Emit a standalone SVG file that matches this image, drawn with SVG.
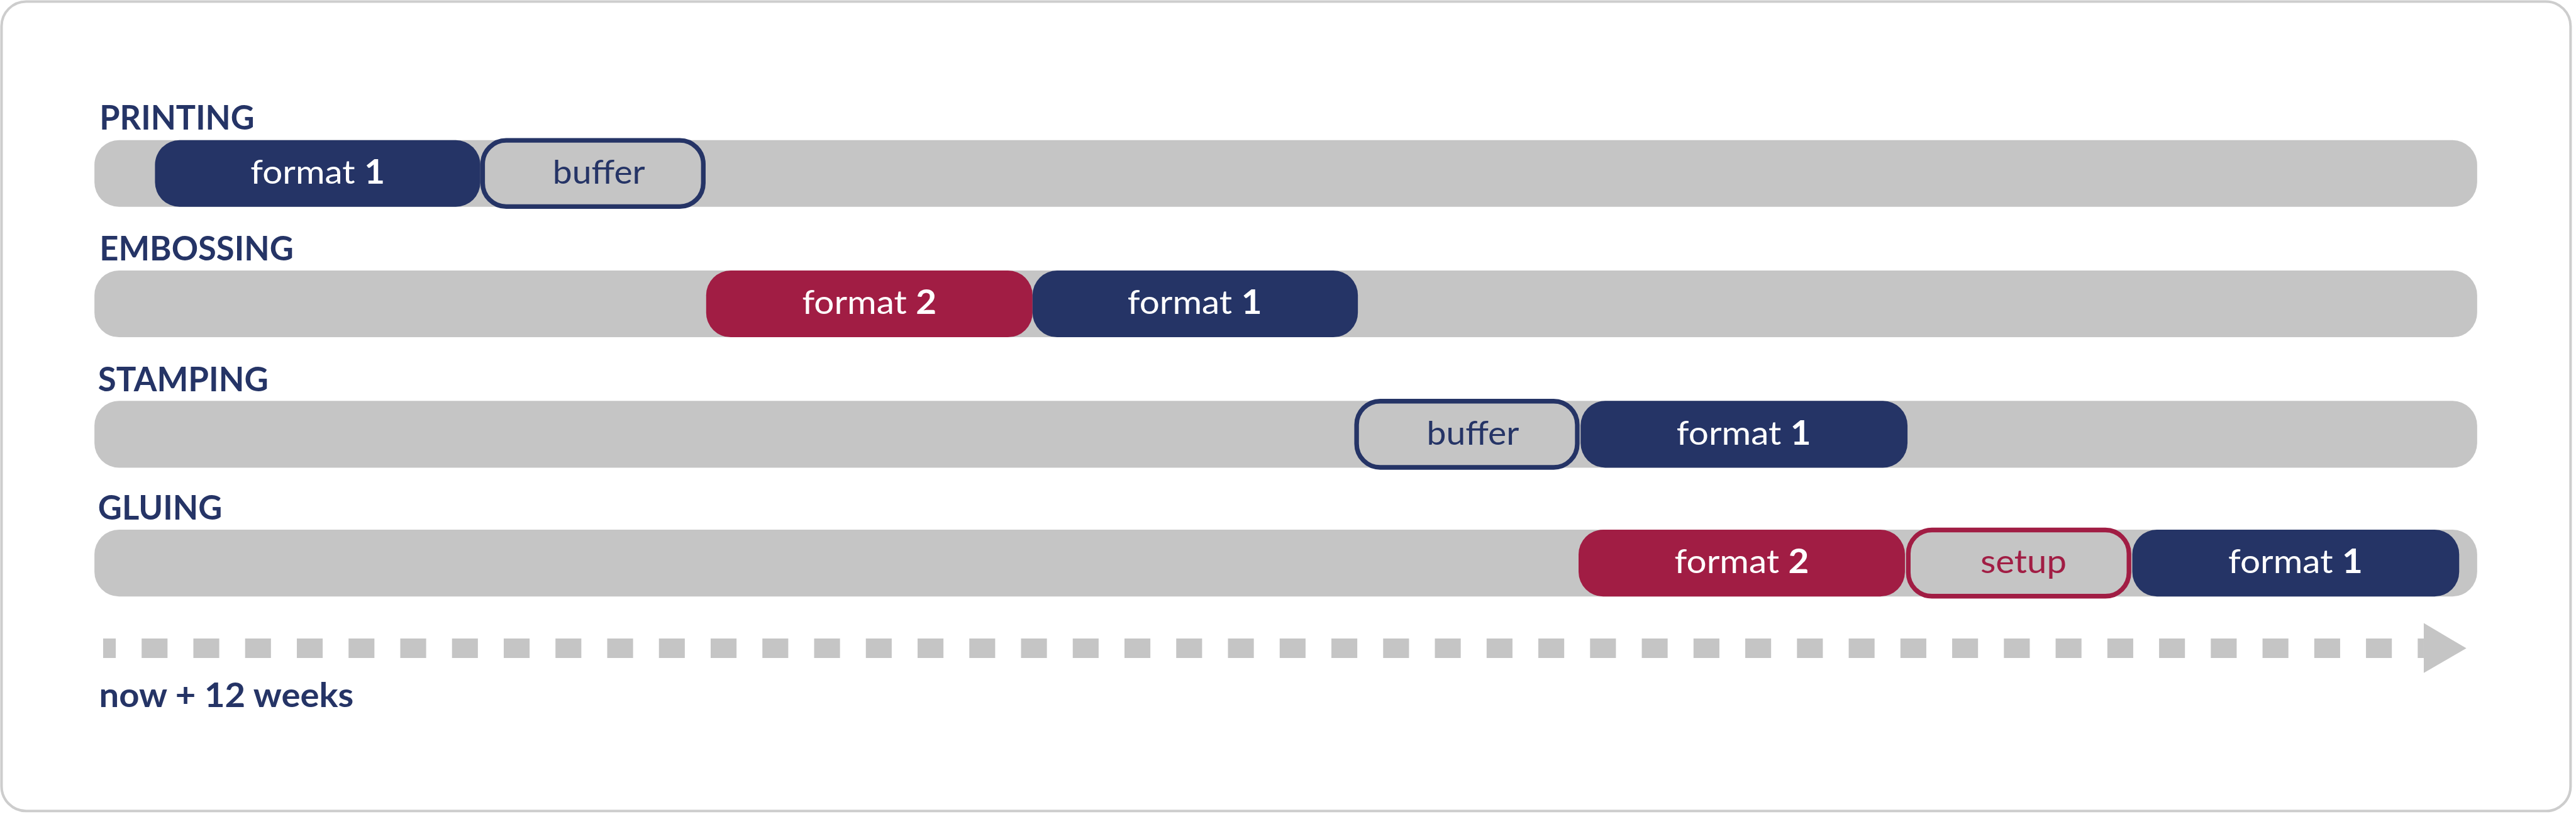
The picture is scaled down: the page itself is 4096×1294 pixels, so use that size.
<svg xmlns="http://www.w3.org/2000/svg" width="4096" height="1294" viewBox="0 0 4096 1294">
<style>
.lbl{font-family:Lato,"Open Sans","Liberation Sans",sans-serif;font-weight:bold;font-size:65px;fill:#253466}
.bar{fill:#c5c5c5}
.navy{fill:#253466}
.red{fill:#a11d44}
.outN{fill:#c5c5c5;stroke:#253466;stroke-width:9}
.outR{fill:#c5c5c5;stroke:#a11d44;stroke-width:9}
.bt{font-family:Lato,"Open Sans","Liberation Sans",sans-serif;font-size:65px;text-anchor:middle}
.w{fill:#ffffff}
.tn{fill:#253466}
.tr{fill:#a11d44}
.b{font-weight:bold}
</style>
<rect width="4096" height="1294" fill="#ffffff"/>
<g transform="scale(0.816)">
<rect id="frame" x="3" y="3" width="5006" height="1577" rx="48" ry="48" fill="#ffffff" stroke="#cdcdcd" stroke-width="5"/>

<g id="row-printing">
<text class="lbl" x="194" y="253" textLength="302" lengthAdjust="spacingAndGlyphs">PRINTING</text>
<rect class="bar" x="184" y="273" width="4643" height="130" rx="48" ry="48"/>
</g>
<g id="row-embossing">
<text class="lbl" x="194" y="507" textLength="378" lengthAdjust="spacingAndGlyphs">EMBOSSING</text>
<rect class="bar" x="184" y="527" width="4643" height="130" rx="48" ry="48"/>
</g>
<g id="row-stamping">
<text class="lbl" x="191" y="762" textLength="332" lengthAdjust="spacingAndGlyphs">STAMPING</text>
<rect class="bar" x="184" y="781" width="4643" height="130" rx="48" ry="48"/>
</g>
<g id="row-gluing">
<text class="lbl" x="191" y="1012" textLength="242" lengthAdjust="spacingAndGlyphs">GLUING</text>
<rect class="bar" x="184" y="1032" width="4643" height="130" rx="48" ry="48"/>
</g>

<g id="printing-format1">
<rect class="navy" x="302" y="273" width="634" height="130" rx="48" ry="48"/>
<text class="bt w" x="619" y="358" textLength="262" lengthAdjust="spacingAndGlyphs">format <tspan class="b">1</tspan></text>
</g>
<g id="printing-buffer">
<rect class="outN" x="940.5" y="273.5" width="430" height="129" rx="46" ry="46"/>
<text class="bt tn" x="1167" y="358" textLength="180" lengthAdjust="spacingAndGlyphs">buffer</text>
</g>

<g id="embossing-format2">
<rect class="red" x="1376" y="527" width="636" height="130" rx="48" ry="48"/>
<text class="bt w" x="1694" y="612" textLength="262" lengthAdjust="spacingAndGlyphs">format <tspan class="b">2</tspan></text>
</g>
<g id="embossing-format1">
<rect class="navy" x="2012" y="527" width="634" height="130" rx="48" ry="48"/>
<text class="bt w" x="2328" y="612" textLength="262" lengthAdjust="spacingAndGlyphs">format <tspan class="b">1</tspan></text>
</g>

<g id="stamping-buffer">
<rect class="outN" x="2643.5" y="781.5" width="430" height="129" rx="46" ry="46"/>
<text class="bt tn" x="2870" y="866" textLength="180" lengthAdjust="spacingAndGlyphs">buffer</text>
</g>
<g id="stamping-format1">
<rect class="navy" x="3080" y="781" width="637" height="130" rx="48" ry="48"/>
<text class="bt w" x="3398" y="866" textLength="262" lengthAdjust="spacingAndGlyphs">format <tspan class="b">1</tspan></text>
</g>

<g id="gluing-format2">
<rect class="red" x="3076" y="1032" width="636" height="130" rx="48" ry="48"/>
<text class="bt w" x="3394" y="1117" textLength="262" lengthAdjust="spacingAndGlyphs">format <tspan class="b">2</tspan></text>
</g>
<g id="gluing-setup">
<rect class="outR" x="3718.5" y="1032.5" width="430" height="129" rx="46" ry="46"/>
<text class="bt tr" x="3943" y="1117" textLength="168" lengthAdjust="spacingAndGlyphs">setup</text>
</g>
<g id="gluing-format1">
<rect class="navy" x="4155" y="1032" width="637" height="130" rx="48" ry="48"/>
<text class="bt w" x="4473" y="1117" textLength="262" lengthAdjust="spacingAndGlyphs">format <tspan class="b">1</tspan></text>
</g>

<g id="connectors">
<line x1="201" y1="1263" x2="4723" y2="1263" stroke="#c5c5c5" stroke-width="38" stroke-dasharray="50.4 50.4" stroke-dashoffset="25.8"/>
<polygon points="4723,1214 4806,1263 4723,1311" fill="#c5c5c5"/>
</g>
<g id="timeline-label">
<text class="lbl" x="193" y="1378" textLength="496" lengthAdjust="spacingAndGlyphs">now + 12 weeks</text>
</g>
</g>
</svg>
